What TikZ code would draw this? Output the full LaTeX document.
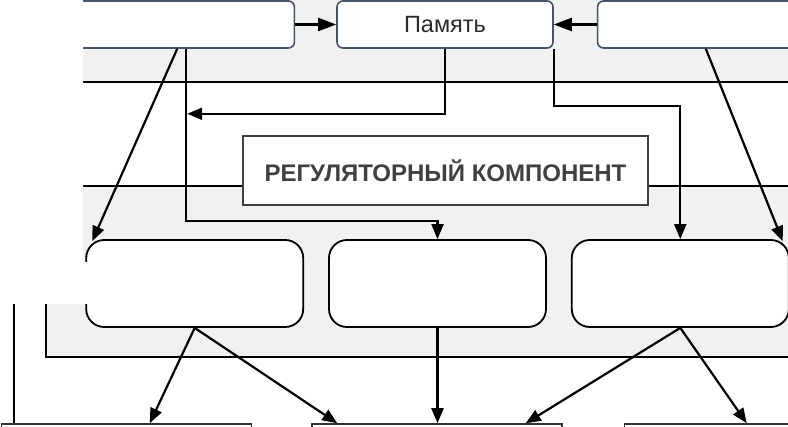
\documentclass[tikz,border=0pt]{standalone}
\usepackage{fontspec}
\setmainfont{Liberation Sans}
\usepackage{tikz}
\usetikzlibrary{positioning,calc,arrows.meta}
\definecolor{DiagSlate}{HTML}{44546A}
\definecolor{DiagBand}{HTML}{F1F1F1}
\definecolor{DiagText}{HTML}{2B2B2B}

\begin{document}
\begin{tikzpicture}[x=1pt, y=-1pt,
    node distance=24pt,
    topbox/.style={draw=DiagSlate, fill=white, line width=1.6pt, rounded corners=6pt,
      minimum height=47pt, inner sep=0pt, font=\fontsize{23.5}{28}\selectfont, text=DiagText},
    midbox/.style={draw=black, fill=white, line width=1.8pt, rounded corners=18pt,
      minimum width=217pt, minimum height=87pt},
    botbox/.style={draw=black!80, fill=white, line width=1.5pt,
      minimum width=250pt, minimum height=50pt},
    regbox/.style={draw=black!75, fill=white, line width=1.8pt, minimum width=405pt,
      minimum height=69pt, font=\bfseries\fontsize{24}{28}\selectfont, text=black!75},
    band/.style={draw=black, fill=DiagBand, line width=1.6pt},
    arrow/.style={-{Triangle[length=15pt,width=12pt]}, line width=2.2pt, draw=black},
    bigarrow/.style={arrow, -{Triangle[length=18pt,width=13pt]}}
  ]
    \clip (0,0) rectangle (788,427);
    % background bands
    \draw[band] (30,-10) rectangle (800,82);
    \draw[band] (46,186) rectangle (800,357);
    \node[regbox] (reg) at (445.5,170.5) {РЕГУЛЯТОРНЫЙ КОМПОНЕНТ};
    % top row
    \node[topbox, minimum width=216pt] (mem) at (445,24.5) {Память};
    \node[topbox, minimum width=256pt, left=41pt of mem] (leftin) {};
    \node[topbox, minimum width=254pt, right=43pt of mem] (rightin) {};
    % middle row
    \node[midbox] (grpM) at (437.5,283.5) {};
    \node[midbox, left=of grpM] (grpL) {};
    \node[midbox, right=of grpM] (grpR) {};
    % bottom row
    \node[botbox] (outM) at (437,449) {};
    \node[botbox, left=59pt of outM] (outL) {};
    \node[botbox, right=61pt of outM] (outR) {};
    \coordinate (lft) at ($(leftin.south east)+(-109,0)$);
    \coordinate (feed) at ($(outL.north west)+(13,-150)$);
    \draw[bigarrow] (leftin) -- (mem);
    \draw[bigarrow] (rightin) -- (mem);
    \draw[arrow] ($(leftin.south east)+(-118,0)$) -- ($(grpL.north west)+(7,2)$);
    \draw[arrow] (lft) |- ($(grpM.north)+(0,-18)$) -- (grpM.north);
    \draw[arrow] (mem.south) |- ($(lft)+(1,65)$);
    \draw[arrow] (mem.south east) |- ($(grpR.north)+(0,-133)$) -- (grpR.north);
    \draw[arrow] ($(rightin.south west)+(109,0)$) -- ($(grpR.north east)+(-7,2)$);
    \draw[arrow] (grpL.south) -- ($(outL.north west)+(149,0)$);
    \draw[arrow] (grpL.south) -- ($(outM.north west)+(26,0)$);
    \draw[arrow] (grpM.south) -- (grpM.south |- outM.north);
    \draw[arrow] (grpR.south) -- ($(outM.north east)+(-37,0)$);
    \draw[arrow] (grpR.south) -- ($(outR.north west)+(123,0)$);
    \draw[line width=1.8pt] (feed) -- (feed |- outL.north);
    % erased corner
    \fill[white] (-5,-5) -| (83,262) -| (90,304) -- (-5,304) -- cycle;
  \end{tikzpicture}
\end{document}
